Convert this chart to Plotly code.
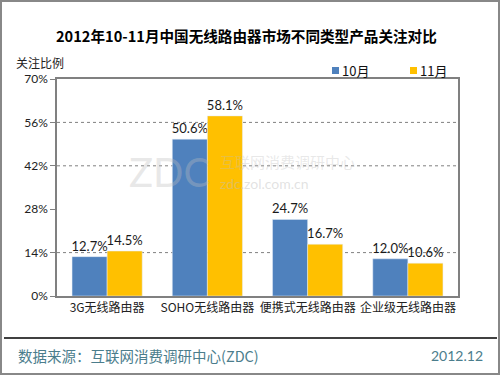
import plotly.graph_objects as go

categories = ["3G无线路由器", "SOHO无线路由器", "便携式无线路由器", "企业级无线路由器"]
oct_values = [12.7, 50.6, 24.7, 12.0]
nov_values = [14.5, 58.1, 16.7, 10.6]
series_names = ["10月", "11月"]
series_colors = ["#4F81BD", "#FFC000"]
y_ticks = [0, 14, 28, 42, 56, 70]
grid_values = [14, 42, 56]

FONT = "Lato, 'Open Sans', 'Noto Sans CJK SC', sans-serif"
CJK = "'Noto Sans CJK SC', sans-serif"

L, R, T, B = 57, 458, 79, 296
PW, PH = R - L, B - T


def px(x):
    return (x - L) / PW


def py(y):
    return (B - y) / PH


fig = go.Figure()
for name, vals, col in zip(series_names, [oct_values, nov_values], series_colors):
    fig.add_trace(go.Bar(x=categories, y=vals, name=name, marker_color=col,
                         text=[f"{v:.1f}%" for v in vals], textposition="outside",
                         constraintext="none",
                         textfont=dict(size=13, color="#1a1a1a", family=FONT), cliponaxis=False))

for g in grid_values:
    fig.add_shape(type="line", xref="paper", yref="y", x0=0, x1=1, y0=g, y1=g,
                  line=dict(color="#808080", width=1, dash="dot"), layer="below")

# watermark
fig.add_annotation(x=px(212), y=py(172), xref="paper", yref="paper",
                   text="ZDC", showarrow=False, xanchor="right", yanchor="middle",
                   font=dict(size=40, color="rgba(190,190,190,0.35)", family=FONT))
fig.add_annotation(x=px(218), y=py(161), xref="paper", yref="paper",
                   text="互联网消费调研中心", showarrow=False, xanchor="left", yanchor="middle",
                   font=dict(size=15, color="rgba(190,190,190,0.35)", family=CJK))
fig.add_annotation(x=px(218), y=py(183), xref="paper", yref="paper",
                   text="zdc.zol.com.cn", showarrow=False, xanchor="left", yanchor="middle",
                   font=dict(size=14, color="rgba(190,190,190,0.45)", family=FONT))

# legend (manual)
legend_x = [332, 410]
for name, col, lx in zip(series_names, series_colors, legend_x):
    fig.add_shape(type="rect", xref="paper", yref="paper", x0=px(lx), x1=px(lx + 7),
                  y0=py(74), y1=py(67), fillcolor=col, line=dict(width=0))
    fig.add_annotation(xref="paper", yref="paper", x=px(lx + 8), y=py(70), text=name,
                       showarrow=False, xanchor="left", yanchor="middle",
                       font=dict(size=13, color="#111", family=CJK))

# title
fig.add_annotation(xref="paper", yref="paper", x=px(246), y=py(35), yanchor="middle",
                   text="<b>2012年10-11月中国无线路由器市场不同类型产品关注对比</b>",
                   showarrow=False, font=dict(size=14.6, color="#000", family=CJK))
fig.add_annotation(xref="paper", yref="paper", x=px(14), y=py(62),
                   text="关注比例", showarrow=False, xanchor="left", yanchor="middle",
                   font=dict(size=12, color="#222", family=CJK))
# footer
fig.add_shape(type="line", xref="paper", yref="paper", x0=px(4), x1=px(497),
              y0=py(338), y1=py(338), line=dict(color="#000", width=1.5))
fig.add_annotation(xref="paper", yref="paper", x=px(16), y=py(355),
                   text="数据来源：互联网消费调研中心(ZDC)", showarrow=False, xanchor="left", yanchor="middle",
                   font=dict(size=14.5, color="#4b7d8c", family=CJK))
fig.add_annotation(xref="paper", yref="paper", x=px(485), y=py(355),
                   text="2012.12", showarrow=False, xanchor="right", yanchor="middle",
                   font=dict(size=14, color="#4b7d8c", family=FONT))
# outer frame
fig.add_shape(type="rect", xref="paper", yref="paper", x0=px(1), x1=px(499),
              y0=py(374), y1=py(1), line=dict(color="#888", width=2))

fig.update_layout(
    width=500, height=375,
    margin=dict(l=L, r=500 - R, t=T, b=375 - B, autoexpand=False),
    paper_bgcolor="white", plot_bgcolor="white",
    barmode="group", bargap=0.3, bargroupgap=0,
    showlegend=False,
    xaxis=dict(showline=True, linecolor="#808080", linewidth=1.5, mirror=True, tickangle=0,
               automargin=False,
               tickfont=dict(size=12, color="#222", family=CJK), ticks="", showgrid=False),
    yaxis=dict(range=[0, 70], tickvals=y_ticks, ticktext=[f"{v}%" for v in y_ticks],
               automargin=False,
               showline=True, linecolor="#808080", linewidth=1.5, mirror=True,
               ticks="outside", ticklen=5, tickcolor="#808080",
               tickfont=dict(size=12, color="#222", family=FONT), showgrid=False, zeroline=False),
)

fig.write_html("out.html", config={"displayModeBar": False},
               post_script="document.body.style.margin='0';document.body.style.overflow='hidden';")
